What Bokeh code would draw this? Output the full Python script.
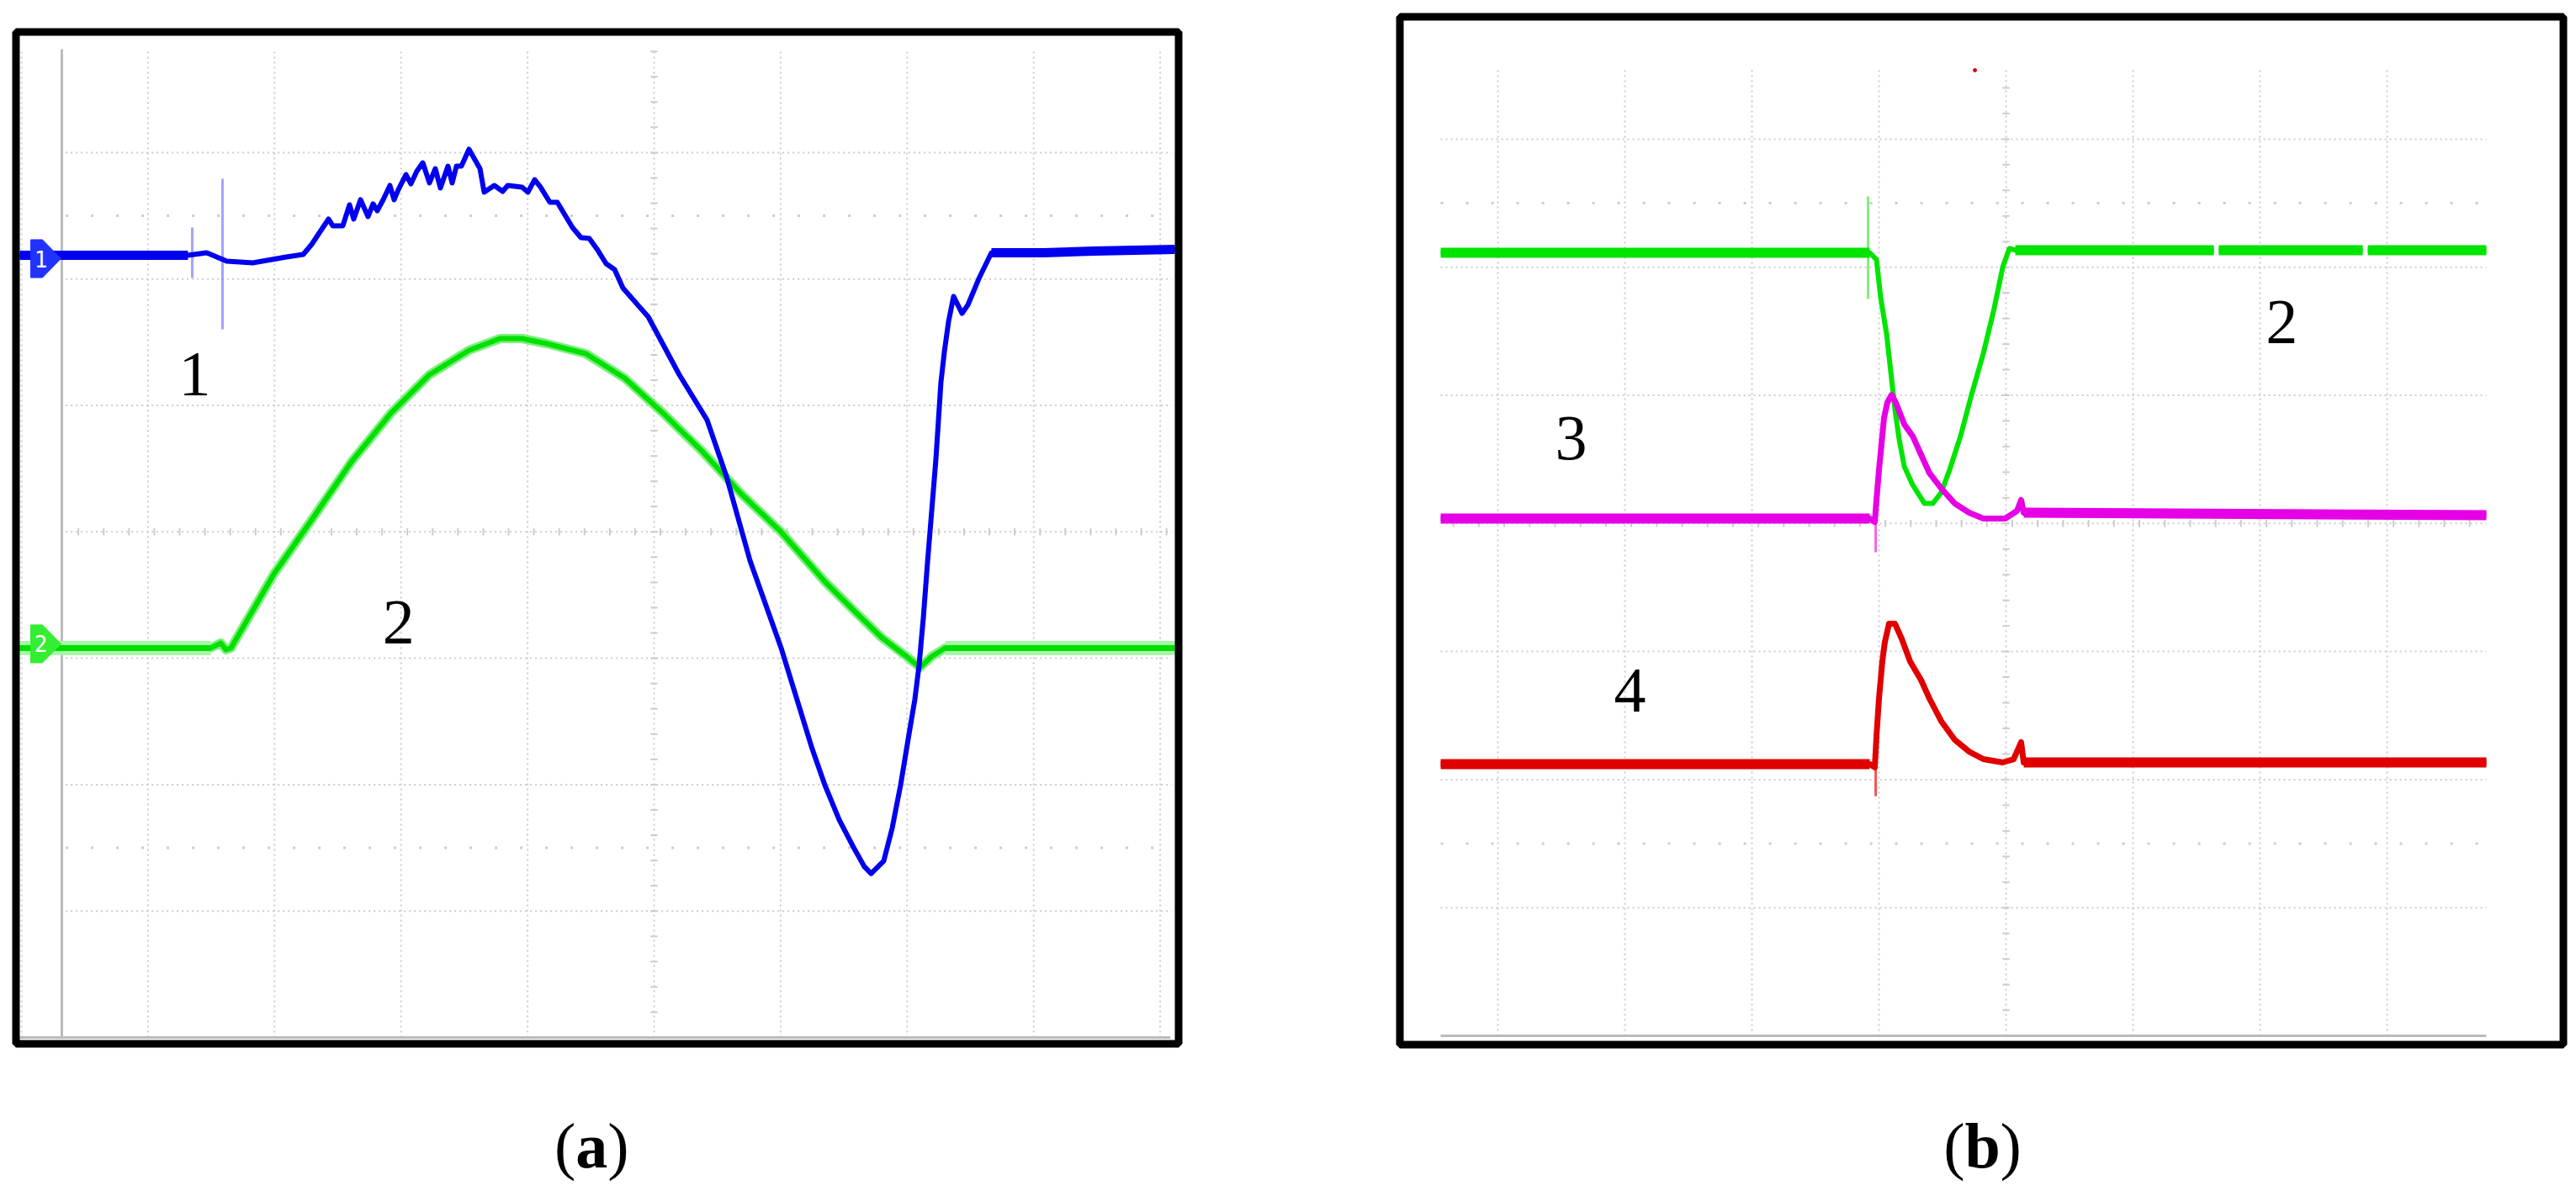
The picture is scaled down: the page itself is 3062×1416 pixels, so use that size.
import numpy as np
from bokeh.plotting import figure
from bokeh.models import Range1d, Label, BoxAnnotation
from bokeh.layouts import row
from bokeh.embed import file_html
from bokeh.resources import INLINE

nan = float("nan")

# ---------------- panel (a): values in oscilloscope divisions ----------------
a_grid_t = [0, 1, 2, 3, 4, 5, 6, 7, 8, 9]
a_grid_v = [1, 2, 3, 4, 5, 6, 7]
a_half_v = [1.5, 6.5]
a_center_t = 5
a_center_v = 4

# channel 1 (blue)
a_ch1_t = [-0.013, 1.316, 1.463, 1.622, 1.828, 2.094, 2.227, 2.294, 2.360, 2.427,
           2.460, 2.540, 2.593, 2.626, 2.680, 2.739, 2.779, 2.812, 2.859, 2.912,
           2.945, 2.979, 3.039, 3.078, 3.125, 3.172, 3.225, 3.271, 3.311, 3.371,
           3.404, 3.438, 3.477, 3.537, 3.624, 3.657, 3.737, 3.803, 3.843, 3.956,
           4.003, 4.056, 4.102, 4.176, 4.235, 4.275, 4.355, 4.422, 4.488, 4.555,
           4.621, 4.688, 4.754, 4.953, 5.199, 5.419, 5.572, 5.758, 6.004, 6.250,
           6.350, 6.463, 6.569, 6.662, 6.715, 6.815, 6.882, 6.948, 7.015, 7.061,
           7.094, 7.128, 7.161, 7.194, 7.227, 7.247, 7.267, 7.294, 7.327, 7.367,
           7.434, 7.480, 7.566, 7.666, 8.078, 8.477, 9.116]
a_ch1_v = [6.188, 6.188, 6.208, 6.141, 6.128, 6.174, 6.194, 6.274, 6.374, 6.474,
           6.421, 6.421, 6.587, 6.474, 6.627, 6.494, 6.594, 6.540, 6.627, 6.740,
           6.627, 6.707, 6.826, 6.753, 6.853, 6.919, 6.760, 6.873, 6.720, 6.893,
           6.760, 6.893, 6.893, 7.026, 6.873, 6.687, 6.740, 6.693, 6.740, 6.727,
           6.687, 6.786, 6.727, 6.607, 6.607, 6.540, 6.407, 6.327, 6.321, 6.227,
           6.121, 6.074, 5.928, 5.702, 5.243, 4.884, 4.438, 3.772, 3.081, 2.282,
           1.996, 1.723, 1.517, 1.351, 1.297, 1.397, 1.657, 1.996, 2.402, 2.675,
           2.941, 3.320, 3.759, 4.165, 4.571, 4.877, 5.183, 5.423, 5.662, 5.862,
           5.728, 5.795, 6.001, 6.208, 6.208, 6.221, 6.234]
a_ch1_spike_t = [1.350, 1.589]
a_ch1_spike_hi = [6.407, 6.793]
a_ch1_spike_lo = [6.008, 5.602]

# channel 2 (green)
a_ch2_t = [-0.013, 1.496, 1.576, 1.616, 1.656, 1.995, 2.301, 2.606, 2.919, 3.225,
           3.537, 3.783, 3.956, 4.149, 4.461, 4.767, 5.073, 5.386, 5.691, 6.004,
           6.350, 6.569, 6.795, 6.995, 7.101, 7.194, 7.301, 9.116]
a_ch2_v = [3.081, 3.081, 3.120, 3.067, 3.081, 3.666, 4.105, 4.551, 4.937, 5.243,
           5.436, 5.529, 5.529, 5.489, 5.409, 5.216, 4.937, 4.631, 4.298, 3.999,
           3.606, 3.387, 3.167, 3.014, 2.927, 3.014, 3.081, 3.081]

a_marker_text = ["1", "2"]
a_marker_v = [6.161, 3.114]
a_marker_color = ["#2233ff", "#33ee33"]

a_label_text = ["1", "2"]
a_label_t = [1.37, 2.98]
a_label_v = [5.10, 3.14]
a_caption = ["(", "a", ")"]

# ---------------- panel (b): values in oscilloscope divisions ----------------
b_grid_t = [0, 1, 2, 3, 4, 5, 6, 7]
b_grid_v = [1, 2, 3, 4, 5, 6, 7]
b_half_v = [1.5, 6.5]
b_center_t = 4
b_center_v = 4

b_ch2_t = [-0.450, 2.927, 2.980, 3.013, 3.060, 3.093, 3.126, 3.159, 3.199, 3.265,
           3.358, 3.424, 3.490, 3.556, 3.642, 3.728, 3.821, 3.907, 3.974, 4.026,
           4.073, 5.636, nan, 5.675, 6.808, nan, 6.848, 7.781]
b_ch2_v = [6.113, 6.113, 6.060, 5.765, 5.476, 5.181, 4.885, 4.655, 4.445, 4.301,
           4.156, 4.156, 4.242, 4.419, 4.682, 5.003, 5.325, 5.680, 6.001, 6.146,
           6.133, 6.133, nan, 6.133, 6.133, nan, 6.133, 6.133]

b_ch3_t = [-0.450, 2.927, 2.967, 2.980, 3.000, 3.020, 3.040, 3.066, 3.099, 3.132,
           3.199, 3.265, 3.331, 3.397, 3.490, 3.596, 3.709, 3.821, 3.993, 4.086,
           4.119, 4.139, 7.781]
b_ch3_v = [4.038, 4.038, 4.012, 4.183, 4.419, 4.622, 4.826, 4.944, 5.003, 4.944,
           4.773, 4.682, 4.537, 4.393, 4.274, 4.156, 4.084, 4.038, 4.038, 4.097,
           4.183, 4.084, 4.064]

b_ch4_t = [-0.450, 2.927, 2.967, 2.980, 3.000, 3.026, 3.046, 3.079, 3.126, 3.179,
           3.245, 3.331, 3.397, 3.490, 3.596, 3.709, 3.821, 3.974, 4.060, 4.119,
           4.139, 7.781]
b_ch4_v = [2.121, 2.121, 2.095, 2.338, 2.633, 2.922, 3.073, 3.217, 3.217, 3.099,
           2.922, 2.777, 2.633, 2.456, 2.311, 2.219, 2.160, 2.134, 2.160, 2.292,
           2.134, 2.134]

b_spike_t = [2.914, 2.974, 2.974]
b_spike_hi = [6.553, 4.215, 2.305]
b_spike_lo = [5.752, 3.775, 1.871]
b_spike_color = ["#7ff07f", "#ee66ee", "#ee5555"]

b_dot_t = [3.755]
b_dot_v = [7.538]

b_label_text = ["2", "3", "4"]
b_label_t = [6.17, 0.576, 1.04]
b_label_v = [5.43, 4.52, 2.55]
b_caption = ["(", "b", ")"]

GRID = "#cccccc"
AXIS = "#bbbbbb"
SERIF = "Liberation Serif"
TXT_DY = 22   # baseline correction for label rendering (screen px)


def scope_fig(x0, x1, y0, y1, w, h, box):
    p = figure(width=w, height=h,
               x_range=Range1d(x0, x1), y_range=Range1d(y0, y1),
               output_backend="svg", toolbar_location=None, title=None,
               x_axis_location=None, y_axis_location=None, min_border=0)
    p.grid.visible = False
    p.outline_line_color = None
    p.background_fill_color = "white"
    p.border_fill_color = "white"
    left, right, bottom, top = box
    p.add_layout(BoxAnnotation(left=left, right=right, bottom=bottom, top=top,
                               fill_alpha=0, fill_color=None,
                               line_color="black", line_width=9, line_alpha=1.0))
    return p


def draw_grid(p, vt, hv, halfv, ct, cv, xl, xr, ytop):
    p.segment(x0=vt, y0=0, x1=vt, y1=ytop, line_color=GRID, line_width=2, line_dash="2 4")
    p.segment(x0=xl, y0=hv, x1=xr, y1=hv, line_color=GRID, line_width=2, line_dash="2 4")
    p.segment(x0=xl, y0=halfv, x1=xr, y1=halfv, line_color=GRID, line_width=3, line_dash="3 27")
    tx = np.arange(xl + 0.1, xr, 0.2)
    p.segment(x0=tx, y0=cv - 0.028, x1=tx, y1=cv + 0.028, line_color=GRID, line_width=2)
    ty = np.arange(0.2, ytop, 0.2)
    p.segment(x0=ct - 0.028, y0=ty, x1=ct + 0.028, y1=ty, line_color=GRID, line_width=2)


def trace(p, t, v, color, w, flat_w, flats):
    p.line(t, v, line_color=color, line_width=w, line_join="round")
    for sl in flats:
        p.line(t[sl], v[sl], line_color=color, line_width=flat_w)


def text(p, x, y, s, align="center", style="normal", xoff=0):
    p.add_layout(Label(x=x, y=y, text=s, text_font=SERIF, text_font_size="76px",
                       text_font_style=style, text_color="black",
                       text_align=align, text_baseline="alphabetic",
                       x_offset=xoff, y_offset=TXT_DY))


def caption(p, x, y, parts, half):
    text(p, x, y, parts[0], align="right", xoff=-half)
    text(p, x, y, parts[1], align="center", style="bold")
    text(p, x, y, parts[2], align="left", xoff=half)


# ---------------- figure (a) ----------------
pa = scope_fig(-0.16622, 10.00665, -1.1910, 8.2036, 1530, 1412,
               (-0.0432, 9.1456, -0.0499, 7.954))
draw_grid(pa, a_grid_t, a_grid_v, a_half_v, a_center_t, a_center_v, 0.35, 9.09, 7.818)
pa.segment(x0=0.319, y0=0, x1=0.319, y1=7.818, line_color=AXIS, line_width=3)
pa.segment(x0=-0.02, y0=0, x1=9.08, y1=0, line_color=AXIS, line_width=3)

pa.segment(x0=a_ch1_spike_t, y0=a_ch1_spike_lo, x1=a_ch1_spike_t, y1=a_ch1_spike_hi,
           line_color="#8c8cff", line_width=3, line_alpha=0.8)
pa.line(a_ch2_t, a_ch2_v, line_color="#7fee7f", line_width=11, line_join="round")
for sl in (slice(0, 2), slice(-2, None)):
    pa.line(a_ch2_t[sl], a_ch2_v[sl], line_color="#a8f5a8", line_width=17)
trace(pa, a_ch2_t, a_ch2_v, "#00e000", 6, 7, [slice(0, 2), slice(-2, None)])
trace(pa, a_ch1_t, a_ch1_v, "#0000ee", 6, 11, [slice(0, 2), slice(83, None)])

mx = [0.073, 0.166, 0.3125, 0.166, 0.073]
mh = [0.15, 0.15, 0.0, -0.15, -0.15]
xs = [mx for _ in a_marker_v]
ys = [[m + d for d in mh] for m in a_marker_v]
pa.patches(xs, ys, fill_color=a_marker_color, line_color=a_marker_color, line_width=1)
for txt, mv in zip(a_marker_text, a_marker_v):
    pa.add_layout(Label(x=0.153, y=mv, text=txt, text_font="DejaVu Sans Mono",
                        text_font_size="26px", text_color="white",
                        text_align="center", text_baseline="middle"))

for txt, lt, lv in zip(a_label_text, a_label_t, a_label_v):
    text(pa, lt, lv, txt)
caption(pa, 4.507, -1.0, a_caption, 19)

# ---------------- figure (b) ----------------
pb = scope_fig(-1.65563, 8.47682, -1.18844, 8.08273, 1530, 1412,
               (-0.7715, 8.3874, -0.0689, 7.9547))
draw_grid(pb, b_grid_t, b_grid_v, b_half_v, b_center_t, b_center_v, -0.45, 7.781, 7.544)
pb.segment(x0=-0.45, y0=0, x1=7.781, y1=0, line_color=AXIS, line_width=3)

pb.segment(x0=b_spike_t, y0=b_spike_lo, x1=b_spike_t, y1=b_spike_hi,
           line_color=b_spike_color, line_width=3)
trace(pb, b_ch2_t, b_ch2_v, "#00e400", 6, 12, [slice(0, 2), slice(20, None)])
trace(pb, b_ch3_t, b_ch3_v, "#e600e6", 7, 12, [slice(0, 2), slice(21, None)])
trace(pb, b_ch4_t, b_ch4_v, "#e00000", 7, 12, [slice(0, 2), slice(20, None)])
pb.scatter(b_dot_t, b_dot_v, size=4, color="#e00000")

for txt, lt, lv in zip(b_label_text, b_label_t, b_label_v):
    text(pb, lt, lv, txt)
caption(pb, 3.815, -1.0, b_caption, 21)

layout = row(pa, pb)
open("out.html", "w").write(file_html(layout, INLINE))
